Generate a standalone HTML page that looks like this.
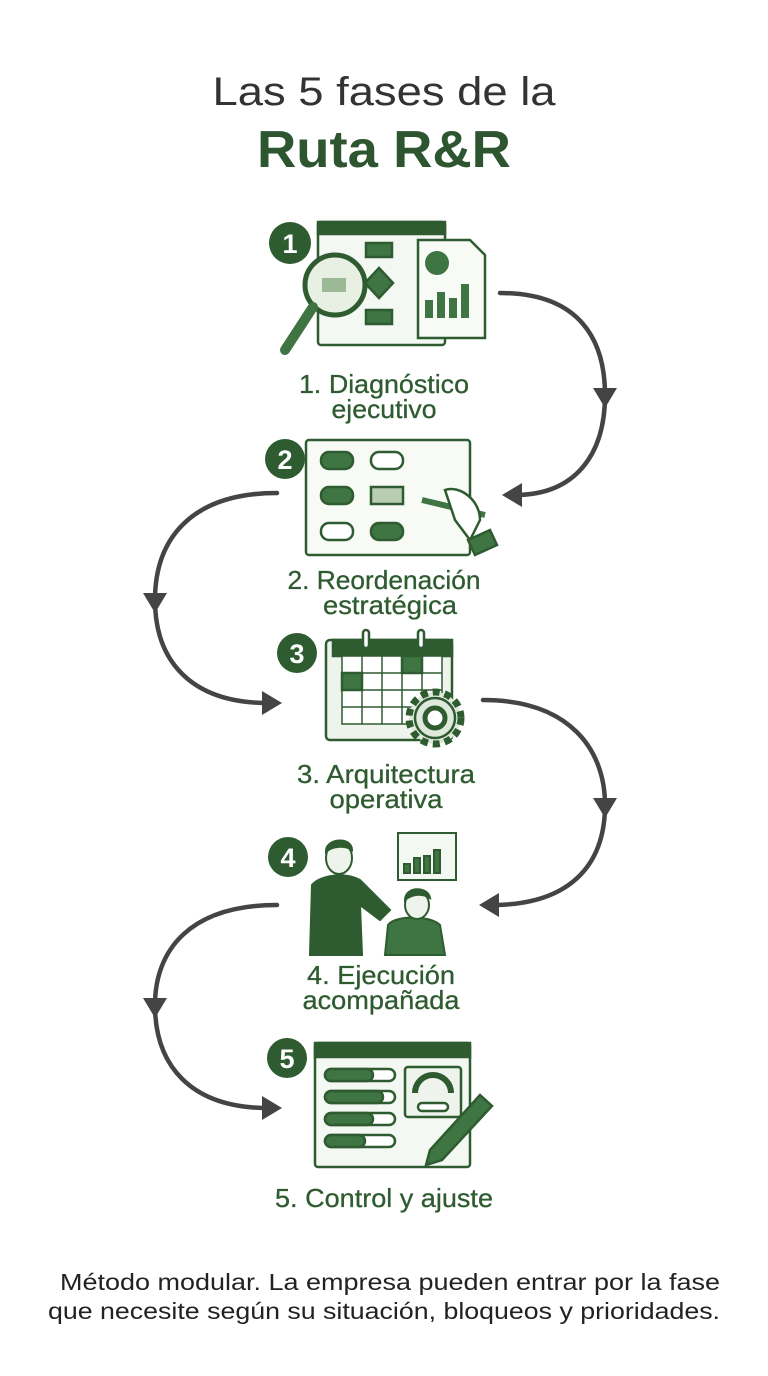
<!DOCTYPE html>
<html><head><meta charset="utf-8"><style>
html,body{margin:0;padding:0;background:#fff;}
svg{display:block;}
</style></head><body>
<svg width="768" height="1376" viewBox="0 0 768 1376" xmlns="http://www.w3.org/2000/svg" font-family="Liberation Sans, sans-serif">
<rect width="768" height="1376" fill="#fff"/>
<!-- Title -->
<text x="384" y="105" text-anchor="middle" font-size="40" fill="#333" textLength="343" lengthAdjust="spacingAndGlyphs">Las 5 fases de la</text>
<text x="384" y="167" text-anchor="middle" font-size="52" font-weight="bold" fill="#2c5530" textLength="254" lengthAdjust="spacingAndGlyphs">Ruta R&amp;R</text>

<!-- Connectors -->
<g fill="none" stroke="#444" stroke-width="4.5" stroke-linecap="round">
<path d="M500,293 C580,293 605,340 605,395 C605,455 575,495 515,495"/>
<path d="M277,493 C190,493 155,540 155,600 C155,660 190,703 268,703"/>
<path d="M483,700 C570,700 605,750 605,805 C605,865 570,905 492,905"/>
<path d="M277,905 C190,905 155,950 155,1005 C155,1065 190,1108 268,1108"/>
</g>
<g fill="#444">
<path d="M593,388 L617,388 L605,408 z"/>
<path d="M522,483 L522,507 L502,495 z"/>
<path d="M143,593 L167,593 L155,613 z"/>
<path d="M262,691 L262,715 L282,703 z"/>
<path d="M593,798 L617,798 L605,818 z"/>
<path d="M499,893 L499,917 L479,905 z"/>
<path d="M143,998 L167,998 L155,1018 z"/>
<path d="M262,1096 L262,1120 L282,1108 z"/>
</g>

<!-- Phase 1 icon -->
<g stroke="#2e5b30" stroke-width="2.5">
<rect x="318" y="222" width="127" height="123" rx="3" fill="#f4f8f2"/>
<rect x="318" y="222" width="127" height="12" fill="#2e5b30"/>
<rect x="366" y="243" width="26" height="14" fill="#3f7443"/>
<path d="M379,268 L393,283 L379,298 L365,283 z" fill="#3f7443"/>
<rect x="366" y="310" width="26" height="14" fill="#3f7443"/>
<path d="M418,240 L470,240 L485,255 L485,338 L418,338 z" fill="#f7faf5"/>
<circle cx="335" cy="285" r="30" fill="#e8f0e4" stroke-width="5"/>
<line x1="313" y1="307" x2="285" y2="350" stroke-width="10" stroke-linecap="round" stroke="#3f7443"/>
</g>
<g fill="#3f7443"><circle cx="437" cy="263" r="12"/><rect x="425" y="300" width="8" height="18"/><rect x="437" y="292" width="8" height="26"/><rect x="449" y="298" width="8" height="20"/><rect x="461" y="284" width="8" height="34"/></g>
<rect x="322" y="278" width="24" height="14" fill="#9bb995"/>
<circle cx="290" cy="243" r="21" fill="#2e5b30"/>
<text x="290" y="253" text-anchor="middle" font-size="27" font-weight="bold" fill="#fff">1</text>

<g font-size="26" fill="#2e5b30" stroke="#2e5b30" stroke-width="0.3" text-anchor="middle">
<text x="384" y="393" textLength="170" lengthAdjust="spacingAndGlyphs">1. Diagnóstico</text>
<text x="384" y="418" textLength="105" lengthAdjust="spacingAndGlyphs">ejecutivo</text>
<text x="384" y="589" textLength="193" lengthAdjust="spacingAndGlyphs">2. Reordenación</text>
<text x="390" y="614" textLength="134" lengthAdjust="spacingAndGlyphs">estratégica</text>
<text x="386" y="783" textLength="178" lengthAdjust="spacingAndGlyphs">3. Arquitectura</text>
<text x="386" y="808" textLength="113" lengthAdjust="spacingAndGlyphs">operativa</text>
<text x="381" y="984" textLength="148" lengthAdjust="spacingAndGlyphs">4. Ejecución</text>
<text x="381" y="1009" textLength="157" lengthAdjust="spacingAndGlyphs">acompañada</text>
<text x="384" y="1207" textLength="218" lengthAdjust="spacingAndGlyphs">5. Control y ajuste</text>
</g>

<!-- Phase 2 icon -->
<g stroke="#2e5b30" stroke-width="2.5">
<rect x="306" y="440" width="164" height="115" rx="3" fill="#f7faf5"/>
<rect x="321" y="452" width="32" height="17" rx="8" fill="#3f7443"/>
<rect x="371" y="452" width="32" height="17" rx="8" fill="#fff"/>
<rect x="321" y="487" width="32" height="17" rx="8" fill="#3f7443"/>
<rect x="371" y="487" width="32" height="17" fill="#b9cdb3"/>
<rect x="321" y="523" width="32" height="17" rx="8" fill="#fff"/>
<rect x="371" y="523" width="32" height="17" rx="8" fill="#3f7443"/>
<path d="M422,500 L485,515" stroke-width="6" stroke="#3f7443"/>
<path d="M445,490 C460,485 480,500 480,520 L470,540 L455,520 z" fill="#fff"/>
<path d="M468,540 L490,530 L497,545 L475,555 z" fill="#3f7443"/>
</g>
<circle cx="285" cy="459" r="20" fill="#2e5b30"/>
<text x="285" y="469" text-anchor="middle" font-size="27" font-weight="bold" fill="#fff">2</text>

<!-- Phase 3 icon -->
<g stroke="#2e5b30" stroke-width="2.5">
<rect x="326" y="640" width="126" height="100" rx="4" fill="#eef4eb"/>
<rect x="333" y="640" width="119" height="16" fill="#2e5b30"/>
<rect x="342" y="656" width="100" height="68" fill="#fff" stroke-width="1.5"/>
<path d="M362,656 V724 M382,656 V724 M402,656 V724 M422,656 V724 M342,673 H442 M342,690 H442 M342,707 H442" stroke-width="1.5"/>
<rect x="342" y="673" width="20" height="17" fill="#3f7443"/>
<rect x="402" y="656" width="20" height="17" fill="#3f7443"/>
<rect x="363" y="630" width="6" height="18" rx="3" fill="#fff"/>
<rect x="418" y="630" width="6" height="18" rx="3" fill="#fff"/>
<circle cx="435" cy="718" r="26" fill="#dfe9db" stroke-width="7" stroke-dasharray="7 5"/>
<circle cx="435" cy="718" r="20" fill="#dfe9db"/>
<circle cx="435" cy="718" r="10" fill="#fff" stroke-width="5"/>
</g>
<circle cx="297" cy="653" r="20" fill="#2e5b30"/>
<text x="297" y="663" text-anchor="middle" font-size="27" font-weight="bold" fill="#fff">3</text>

<!-- Phase 4 icon -->
<g stroke="#2e5b30" stroke-width="2">
<rect x="398" y="833" width="58" height="47" fill="#f4f8f2"/>
<rect x="404" y="864" width="6" height="9" fill="#3f7443"/><rect x="414" y="858" width="6" height="15" fill="#3f7443"/><rect x="424" y="856" width="6" height="17" fill="#3f7443"/><rect x="434" y="850" width="6" height="23" fill="#3f7443"/>
<path d="M310,955 L312,885 C320,875 345,872 360,880 L390,910 L380,920 L360,905 L362,955 z" fill="#2e5b30"/>
<ellipse cx="339" cy="858" rx="13" ry="16" fill="#eef4eb"/>
<path d="M326,852 C325,838 352,836 352,850 C345,845 332,846 326,852z" fill="#2e5b30"/>
<path d="M385,955 L388,925 C395,915 430,915 440,925 L445,955 z" fill="#3f7443"/>
<ellipse cx="417" cy="905" rx="12" ry="14" fill="#eef4eb"/>
<path d="M405,900 C405,886 428,886 430,898 C422,893 412,894 405,900z" fill="#2e5b30"/>
</g>
<circle cx="288" cy="857" r="20" fill="#2e5b30"/>
<text x="288" y="867" text-anchor="middle" font-size="27" font-weight="bold" fill="#fff">4</text>

<!-- Phase 5 icon -->
<g stroke="#2e5b30" stroke-width="2.5">
<rect x="315" y="1043" width="155" height="124" rx="3" fill="#f4f8f2"/>
<rect x="315" y="1043" width="155" height="14" fill="#2e5b30"/>
<rect x="325" y="1069" width="70" height="12" rx="6" fill="#fff"/><rect x="325" y="1069" width="48" height="12" rx="6" fill="#3f7443"/>
<rect x="325" y="1091" width="70" height="12" rx="6" fill="#fff"/><rect x="325" y="1091" width="58" height="12" rx="6" fill="#3f7443"/>
<rect x="325" y="1113" width="70" height="12" rx="6" fill="#fff"/><rect x="325" y="1113" width="48" height="12" rx="6" fill="#3f7443"/>
<rect x="325" y="1135" width="70" height="12" rx="6" fill="#fff"/><rect x="325" y="1135" width="40" height="12" rx="6" fill="#3f7443"/>
<rect x="405" y="1067" width="56" height="50" rx="3" fill="#eef4eb"/>
<path d="M415,1093 A18,18 0 0 1 451,1093" fill="none" stroke-width="6"/>
<rect x="418" y="1103" width="30" height="8" rx="4" fill="#fff"/>
<path d="M430,1150 L480,1095 L492,1106 L442,1160 L426,1165 z" fill="#3f7443"/>
</g>
<circle cx="287" cy="1058" r="20" fill="#2e5b30"/>
<text x="287" y="1068" text-anchor="middle" font-size="27" font-weight="bold" fill="#fff">5</text>

<!-- Footer -->
<text x="390" y="1290" text-anchor="middle" font-size="23" fill="#222" textLength="660" lengthAdjust="spacingAndGlyphs">Método modular. La empresa pueden entrar por la fase</text>
<text x="384" y="1319" text-anchor="middle" font-size="23" fill="#222" textLength="672" lengthAdjust="spacingAndGlyphs">que necesite según su situación, bloqueos y prioridades.</text>
</svg>
</body></html>
